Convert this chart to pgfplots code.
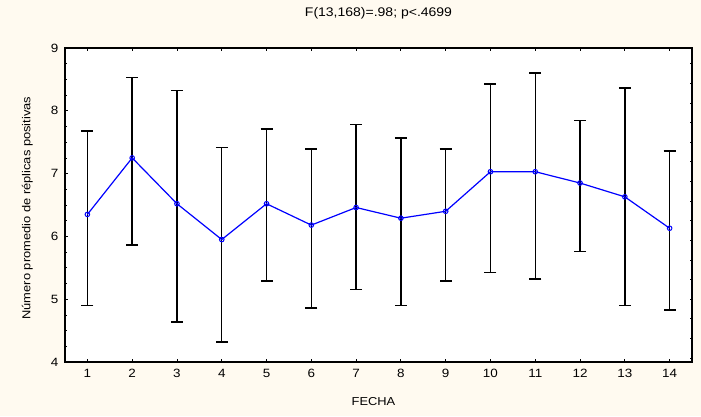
\documentclass[border=0pt]{standalone}
\usepackage{pgfplots}
\pgfplotsset{compat=1.18}
\usepackage{pgfplotstable}
\usepackage{fontspec}
\setmainfont{Liberation Sans}[FakeStretch=1.12]
\definecolor{bgcol}{RGB}{255,250,240}
\definecolor{lineblue}{RGB}{0,0,255}

\pgfplotstableread{
x y lo hi
1 6.35 4.90 7.68
2 7.25 5.86 8.53
3 6.52 4.64 8.32
4 5.95 4.32 7.42
5 6.52 5.29 7.71
6 6.18 4.86 7.39
7 6.46 5.15 7.78
8 6.29 4.90 7.57
9 6.40 5.29 7.39
10 7.03 5.43 8.43
11 7.03 5.32 8.60
12 6.85 5.76 7.85
13 6.63 4.90 8.36
14 6.13 4.83 7.36
}\datatable

\begin{document}
\begin{tikzpicture}[x=1pt,y=1pt]
\fill[bgcol] (-65,-54) rectangle (636,362);
\begin{axis}[
  at={(0,0)}, anchor=south west,
  scale only axis, width=627pt, height=314pt,
  xmin=0.5, xmax=14.5, ymin=4, ymax=9,
  xtick={1,...,14}, ytick={4,...,9},
  minor y tick num=3,
  tick align=inside,
  major tick length=3pt, minor tick length=2pt,
  xtick pos=both, ytick pos=left,
  axis line style={line width=1.1pt},
  tick style={line width=0.8pt, black},
  axis background/.style={fill=white},
  /pgf/number format/assume math mode=true,
  tick label style={font=\fontsize{12}{14}\selectfont},
  xticklabel style={yshift=-4pt},
  yticklabel style={xshift=-3pt},
  label style={font=\fontsize{11.5}{13}\selectfont},
  title={F(13,168)=.98; p<.4699},
  title style={at={(axis description cs:0.5,1)}, anchor=center, yshift=29pt, font=\fontsize{12.5}{14}\selectfont},
  xlabel={FECHA},
  xlabel style={at={(axis description cs:0.492,0)}, anchor=center, yshift=-40pt},
  ylabel={Número promedio de réplicas positivas},
  ylabel style={at={(axis description cs:-0.06,0.49)}, anchor=center},
]
\addplot[draw=none, mark=none,
  error bars/.cd, y dir=both, y explicit,
  error bar style={line width=1.4pt, black},
  error mark options={rotate=90, mark size=6pt, line width=1.4pt, black}]
  table[x=x, y=y, y error plus expr=\thisrow{hi}-\thisrow{y}, y error minus expr=\thisrow{y}-\thisrow{lo}] {\datatable};
\addplot[lineblue, line width=1.2pt, mark=o, mark size=2.3pt,
  mark options={fill=white, line width=1pt}]
  table[x=x, y=y] {\datatable};
\end{axis}
\begin{axis}[
  at={(0,0)}, anchor=south west,
  scale only axis, width=627pt, height=314pt,
  xmin=0.5, xmax=14.5, ymin=4, ymax=9,
  hide x axis, axis y line*=right,
  ytick distance=0.3125, yticklabels={},
  tick align=inside, major tick length=2.5pt,
  axis line style={line width=1.1pt, -},
  tick style={line width=0.8pt, black},
]
\addplot[draw=none] coordinates {(1,5)};
\end{axis}
\pgfresetboundingbox
\useasboundingbox (-65,-54) rectangle (636,362);
\end{tikzpicture}
\end{document}
